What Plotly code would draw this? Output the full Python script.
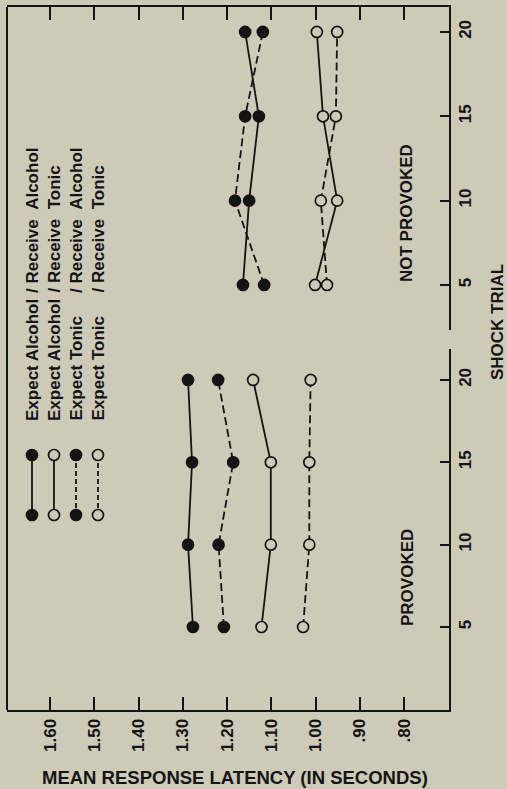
import plotly.graph_objects as go

W, H = 507, 789
BG = "rgb(206,202,184)"
INK = "#141414"
FONT = "Liberation Sans, Arial, sans-serif"

# ---------------- data ----------------
trials = [5, 10, 15, 20]
series_names = [
    "Expect Alcohol / Receive Alcohol",
    "Expect Alcohol / Receive Tonic",
    "Expect Tonic / Receive Alcohol",
    "Expect Tonic / Receive Tonic",
]
provoked_ea_ra = [1.277, 1.288, 1.279, 1.288]
provoked_ea_rt = [1.122, 1.101, 1.101, 1.141]
provoked_et_ra = [1.207, 1.219, 1.186, 1.220]
provoked_et_rt = [1.028, 1.014, 1.014, 1.011]

notprov_ea_ra = [1.164, 1.150, 1.128, 1.159]
notprov_ea_rt = [1.001, 0.951, 0.983, 0.997]
notprov_et_ra = [1.116, 1.182, 1.159, 1.119]
notprov_et_rt = [0.974, 0.988, 0.954, 0.951]

latency_ticks = [1.60, 1.50, 1.40, 1.30, 1.20, 1.10, 1.00, 0.90, 0.80]
latency_ticktext = ["1.60", "1.50", "1.40", "1.30", "1.20", "1.10", "1.00", ".90", ".80"]
notprov_bottom_ticks = [1.40, 1.30, 1.20, 1.10, 1.00, 0.90, 0.80]
trial_ticks = [5, 10, 15, 20]
trial_ticktext = ["5", "10", "15", "20"]

# ---------------- layout helpers (pixel -> paper) ----------------
def px(x):
    return x / W

def py(y):
    return 1 - y / H

def bold(s):
    return "<b>" + s + "</b>"

# latency scale: 1.60 at x=50px, 0.80 at x=404px
SLOPE = 0.80 / 354.0
def lat_at(xpix):
    return 1.60 - (xpix - 50) * SLOPE

FRAME_L, FRAME_R = 7, 449
TOP_T, TOP_B = 7, 330
BOT_T, BOT_B = 349, 710
NP_LINE_START = 126

x_range = [lat_at(FRAME_L), lat_at(FRAME_R)]

LW = 1.8
styles = [
    dict(filled=True, dash="solid"),
    dict(filled=False, dash="solid"),
    dict(filled=True, dash="8px,4px"),
    dict(filled=False, dash="8px,4px"),
]

def marker(filled):
    return dict(size=11, color=INK if filled else BG,
                line=dict(color=INK, width=1.7))

fig = go.Figure()

prov = [provoked_ea_ra, provoked_ea_rt, provoked_et_ra, provoked_et_rt]
notp = [notprov_ea_ra, notprov_ea_rt, notprov_et_ra, notprov_et_rt]

for name, vals, st in zip(series_names, notp, styles):
    fig.add_trace(go.Scatter(x=vals, y=trials, mode="lines+markers", name=name,
                             xaxis="x", yaxis="y", showlegend=False,
                             line=dict(color=INK, width=LW, dash=st["dash"]),
                             marker=marker(st["filled"])))
for name, vals, st in zip(series_names, prov, styles):
    fig.add_trace(go.Scatter(x=vals, y=trials, mode="lines+markers", name=name,
                             xaxis="x2", yaxis="y2", showlegend=False,
                             line=dict(color=INK, width=LW, dash=st["dash"]),
                             marker=marker(st["filled"])))

# legend glyphs on a full-page overlay axis (pixel units)
LEG_X = [32, 54, 76, 98]
LEG_Y0, LEG_Y1 = 455, 515
for lx, name, st in zip(LEG_X, series_names, styles):
    fig.add_trace(go.Scatter(x=[lx, lx], y=[LEG_Y0, LEG_Y1], mode="lines+markers",
                             xaxis="x4", yaxis="y4", showlegend=False, hoverinfo="skip",
                             line=dict(color=INK, width=LW,
                                       dash="solid" if st["dash"] == "solid" else "5px,3px"),
                             marker=marker(st["filled"])))

axis_common = dict(showline=True, linecolor=INK, linewidth=2, showgrid=False,
                   zeroline=False, ticks="inside", tickcolor=INK, tickwidth=1.8,
                   fixedrange=True, automargin=False,
                   tickfont=dict(family=FONT, size=17, color=INK))

fig.update_layout(
    width=W, height=H,
    margin=dict(l=0, r=0, t=0, b=0),
    paper_bgcolor=BG, plot_bgcolor="rgba(0,0,0,0)",
    font=dict(family=FONT, color=INK),
    xaxis=dict(domain=[px(FRAME_L), px(FRAME_R)], anchor="y", range=x_range,
               side="top", tickvals=latency_ticks, showticklabels=False,
               ticklen=13, **axis_common),
    yaxis=dict(domain=[py(TOP_B), py(TOP_T)], anchor="x", range=[2.33, 21.48],
               side="right", tickvals=trial_ticks,
               ticktext=[bold(t) for t in trial_ticktext],
               tickangle=-90, ticklen=9, **axis_common),
    xaxis3=dict(domain=[px(NP_LINE_START), px(FRAME_R)], anchor="y",
                range=[lat_at(NP_LINE_START), lat_at(FRAME_R)], side="bottom",
                tickvals=notprov_bottom_ticks, showticklabels=False, ticklen=13,
                **axis_common),
    xaxis2=dict(domain=[px(FRAME_L), px(FRAME_R)], anchor="y2", range=x_range,
                side="bottom", tickvals=latency_ticks,
                ticktext=[bold(t) for t in latency_ticktext],
                tickangle=-90, ticklen=13, **axis_common),
    yaxis2=dict(domain=[py(BOT_B), py(BOT_T)], anchor="x2", range=[-0.04, 21.88],
                side="right", tickvals=trial_ticks,
                ticktext=[bold(t) for t in trial_ticktext],
                tickangle=-90, ticklen=9, **axis_common),
    xaxis4=dict(domain=[0, 1], anchor="y4", range=[0, W], visible=False, fixedrange=True),
    yaxis4=dict(domain=[0, 1], anchor="x4", range=[H, 0], visible=False, fixedrange=True),
    showlegend=False,
)

# left edge of the frame (continuous across both panels)
fig.add_shape(type="line", xref="paper", yref="paper",
              x0=px(FRAME_L), x1=px(FRAME_L), y0=py(TOP_T), y1=py(BOT_B),
              line=dict(color=INK, width=2))

def ann(text, x, y, size=17, angle=-90, xanchor="center", yanchor="middle"):
    fig.add_annotation(text=bold(text), x=px(x), y=py(y), xref="paper", yref="paper",
                       showarrow=False, textangle=angle, xanchor=xanchor,
                       yanchor=yanchor, font=dict(family=FONT, size=size, color=INK))

# legend texts (two parts so the slashes line up)
leg_first = ["Expect Alcohol", "Expect Alcohol", "Expect Tonic", "Expect Tonic"]
leg_second = ["/ Receive\u00a0\u00a0Alcohol", "/ Receive\u00a0\u00a0Tonic",
              "/ Receive\u00a0\u00a0Alcohol", "/ Receive\u00a0\u00a0Tonic"]
for lx, a, b in zip(LEG_X, leg_first, leg_second):
    ann(a, lx, 423, yanchor="bottom")
    ann(b, lx, 295, yanchor="bottom")

ann("PROVOKED", 407, 578)
ann("NOT PROVOKED", 407, 213)
ann("SHOCK TRIAL", 497, 322)
ann("MEAN RESPONSE LATENCY (IN SECONDS)", 235, 777, size=18.5, angle=0)

fig.write_html("out.html", config={"displayModeBar": False},
               post_script="document.body.style.margin='0';")
